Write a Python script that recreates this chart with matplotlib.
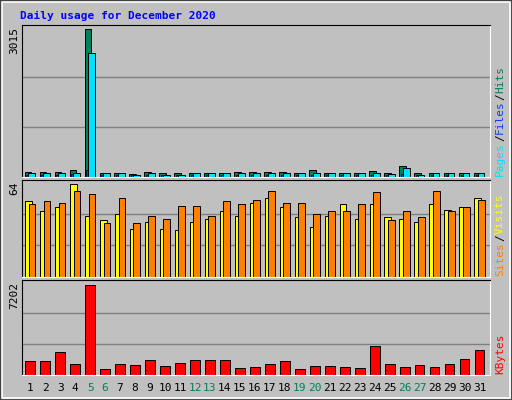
import numpy as np
import matplotlib.pyplot as plt
from matplotlib.patches import Rectangle

days = np.arange(1, 32)
weekend_days = [5, 6, 12, 13, 19, 20, 26, 27]

hits = [109, 109, 109, 137, 3015, 89, 89, 68, 109, 75, 75, 89, 89, 89, 109, 109,
        109, 109, 89, 137, 89, 89, 89, 116, 75, 219, 89, 89, 89, 89, 89]
files = [75, 75, 75, 82, 2543, 75, 75, 48, 75, 48, 48, 75, 75, 75, 75, 75,
         75, 75, 75, 75, 75, 75, 75, 75, 55, 191, 48, 75, 75, 75, 75]
pages = [50, 50, 50, 55, 140, 45, 45, 35, 50, 35, 35, 45, 45, 45, 50, 50,
         50, 50, 45, 50, 45, 45, 45, 50, 40, 60, 35, 45, 45, 45, 45]
visits = [52, 45, 48, 64, 42, 39, 43, 33, 38, 33, 32, 38, 40, 45, 42, 51,
          54, 48, 41, 34, 42, 50, 40, 50, 41, 40, 38, 50, 46, 48, 54]
sites = [50, 52, 51, 59, 57, 37, 54, 37, 42, 40, 49, 49, 42, 52, 50, 53,
         59, 51, 51, 43, 45, 45, 50, 58, 39, 45, 41, 59, 45, 48, 53]
kbytes = [1134, 1134, 1847, 897, 7202, 475, 897, 818, 1213, 739, 976, 1213, 1213, 1213, 580, 660,
          897, 1134, 475, 739, 739, 660, 580, 2321, 897, 660, 818, 660, 897, 1293, 2005]

W, H = 512, 400
bg = "#C0C0C0"
mono = "DejaVu Sans Mono"

fig = plt.figure(figsize=(W / 100, H / 100), dpi=100, facecolor=bg)
# bevel frame
fig.add_artist(Rectangle((0, 0), 1, 1, transform=fig.transFigure, fill=False,
                         edgecolor="#404040", linewidth=2))
fig.add_artist(Rectangle((2 / W, 2 / H), 1 - 4 / W, 1 - 4 / H, transform=fig.transFigure,
                         fill=False, edgecolor="white", linewidth=1.2))
fig.text(20 / W, 1 - 16 / H, "Daily usage for December 2020", color="#0000FF",
         family=mono, fontsize=8, fontweight="bold", va="center")


def panel(top, bottom):
    ax = fig.add_axes([22 / W, 1 - bottom / H, 468 / W, (bottom - top) / H], facecolor=bg)
    ax.set_xlim(0.45, 31.7)
    ax.set_xticks([])
    ax.set_yticks([])
    for s in ax.spines.values():
        s.set_color("black")
    ax.spines["bottom"].set_color("white")
    ax.spines["right"].set_color("white")
    return ax


def grid(ax, ymax):
    for f in (1 / 3, 2 / 3):
        ax.axhline(ymax * f * 1.02, color="#808080", linewidth=1, zorder=0)


def side_label(bottom, parts):
    # parts listed bottom to top
    y = 1 - bottom / H + 0.003
    for txt, col in parts:
        fig.text(500 / W, y, txt, rotation=90, color=col, family=mono, fontsize=8,
                 ha="center", va="bottom")
        y += len(txt) * 6.9 / H


def max_label(top, text):
    fig.text(14 / W, 1 - top / H - 0.005, text, rotation=90, family=mono, fontsize=8,
             ha="center", va="top")


# hits / files / pages
ax1 = panel(25, 177)
ax1.set_ylim(0, max(hits) * 1.03)
grid(ax1, max(hits))
ax1.bar(days - 0.15, hits, 0.45, color="#00805C", edgecolor="black", linewidth=0.7)
ax1.bar(days + 0.1, files, 0.45, color="#00E0FF", edgecolor="black", linewidth=0.7)
ax1.bar(days - 0.2, pages, 0.12, color="#0040FF", edgecolor="black", linewidth=0.5)
max_label(25, str(max(hits)))
side_label(177, [("Pages", "#00E0FF"), ("/", "black"), ("Files", "#0040FF"),
                 ("/", "black"), ("Hits", "#00805C")])

# visits / sites
ax2 = panel(180, 277)
ax2.set_ylim(0, max(visits) * 1.04)
grid(ax2, max(visits))
ax2.bar(days - 0.12, visits, 0.45, color="#FFFF00", edgecolor="black", linewidth=0.7)
ax2.bar(days + 0.12, sites, 0.45, color="#FF8000", edgecolor="black", linewidth=0.7)
max_label(180, str(max(visits)))
side_label(277, [("Sites", "#FF8000"), ("/", "black"), ("Visits", "#FFFF00")])

# kbytes
ax3 = panel(280, 375)
ax3.set_ylim(0, max(kbytes) * 1.05)
grid(ax3, max(kbytes))
ax3.bar(days, kbytes, 0.65, color="#FF0000", edgecolor="black", linewidth=0.7)
max_label(280, str(max(kbytes)))
side_label(375, [("KBytes", "#FF0000")])

for d in days:
    x = 22 / W + (d - 0.45) / (31.7 - 0.45) * 468 / W
    fig.text(x, 1 - 388 / H, str(d), ha="center", va="center", family=mono, fontsize=8,
             color="#00805C" if d in weekend_days else "black")

fig.savefig("out.png", dpi=100, facecolor=bg)
